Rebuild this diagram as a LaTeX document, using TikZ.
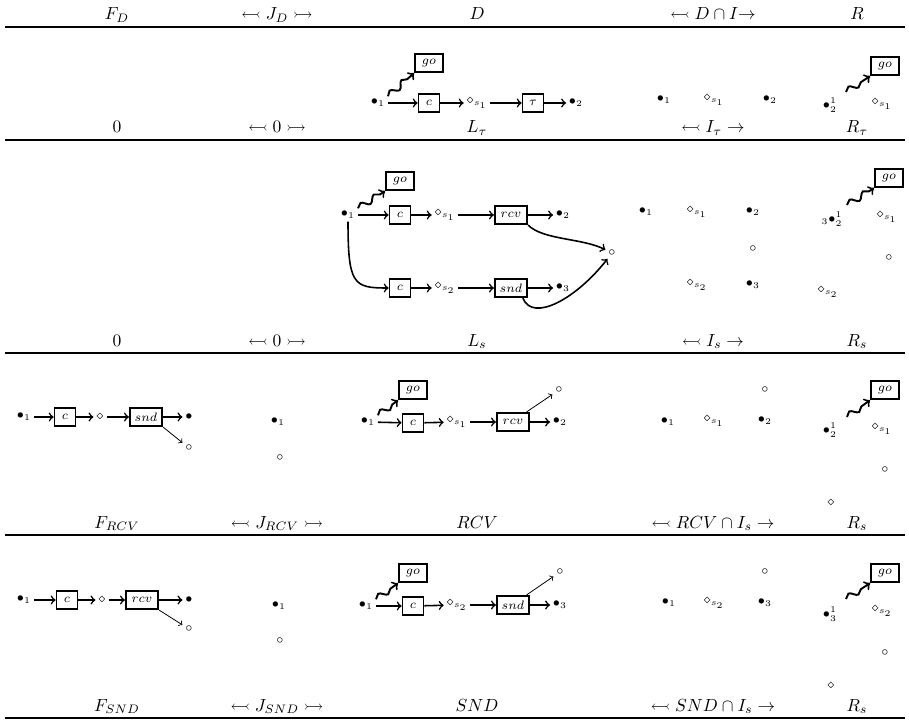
\documentclass[tikz,border=0pt]{standalone}
\usepackage{amssymb}
\usetikzlibrary{decorations.pathmorphing}

\tikzset{
  hd/.style={anchor=base},
  pnt/.style={font=\scriptsize, inner sep=1.5pt},
  tbox/.style={draw, line width=1pt, font=\scriptsize, inner sep=0pt, minimum height=10.5pt, minimum width=12pt},
  gobox/.style={tbox, minimum width=16pt},
  lbox/.style={tbox, minimum width=18.5pt},
  arr/.style={-to, line width=0.9pt},
  slim/.style={-to, line width=0.45pt},
  wavy/.style={-to, line width=1.1pt, decorate, decoration={snake, amplitude=1.8pt, segment length=9pt, post length=3pt}},
  hrule/.style={line width=1.3pt}
}

\begin{document}
\begin{tikzpicture}[x=0.57pt,y=-0.57pt]
    \useasboundingbox (0,0) rectangle (909,720);

    % rules
    \foreach \y in {27,140,353,535,718}
      \draw[hrule] (5,\y) -- (905,\y);

    % header texts
    \node[hd] (h1f) at (117,20) {$F_D$};
    \node[hd] (h1j) at (277,20) {$\leftarrowtail J_D \rightarrowtail$};
    \node[hd] (h1l) at (477,20) {$D$};
    \node[hd] (h1i) at (713,20) {$\leftarrowtail D\cap I{\to}$};
    \node[hd] (h1r) at (857,20) {$R$};

    \node[hd] (h2f) at (117,133) {$0$};
    \node[hd] (h2j) at (277,133) {$\leftarrowtail 0 \rightarrowtail$};
    \node[hd] (h2l) at (477,133) {$L_\tau$};
    \node[hd] (h2i) at (713,133) {$\leftarrowtail I_\tau \to$};
    \node[hd] (h2r) at (857,133) {$R_\tau$};

    \node[hd] (h3f) at (117,346) {$0$};
    \node[hd] (h3j) at (277,346) {$\leftarrowtail 0 \rightarrowtail$};
    \node[hd] (h3l) at (477,346) {$L_s$};
    \node[hd] (h3i) at (713,346) {$\leftarrowtail I_s \to$};
    \node[hd] (h3r) at (857,346) {$R_s$};

    \node[hd] (h4f) at (117,528) {$F_{RCV}$};
    \node[hd] (h4j) at (277,528) {$\leftarrowtail J_{RCV} \rightarrowtail$};
    \node[hd] (h4l) at (477,528) {$RCV$};
    \node[hd] (h4i) at (713,528) {$\leftarrowtail RCV\cap I_s \to$};
    \node[hd] (h4r) at (857,528) {$R_s$};

    \node[hd] (h5f) at (117,711) {$F_{SND}$};
    \node[hd] (h5j) at (277,711) {$\leftarrowtail J_{SND} \rightarrowtail$};
    \node[hd] (h5l) at (477,711) {$SND$};
    \node[hd] (h5i) at (713,711) {$\leftarrowtail SND\cap I_s \to$};
    \node[hd] (h5r) at (857,711) {$R_s$};

    % row L_tau
    \node[pnt] (tl1) at (378,103) {$\bullet_1$};
    \node[gobox] (tlgo) at (429,63) {$go$};
    \node[tbox] (tlc) at (429,103) {$c$};
    \node[pnt] (tls) at (477,103) {$\diamond_{s_1}$};
    \node[tbox] (tltau) at (533,103) {$\tau$};
    \node[pnt] (tl2) at (576,103) {$\bullet_2$};
    \draw[arr] (tl1) -- (tlc);
    \draw[arr] (tlc) -- (tls);
    \draw[arr] (tls) -- (tltau);
    \draw[arr] (tltau) -- (tl2);
    \draw[wavy] (tl1.north east) -- (tlgo.south west);

    \node[pnt] (ti1) at (664,100) {$\bullet_1$};
    \node[pnt] (tis) at (714,100) {$\diamond_{s_1}$};
    \node[pnt] (ti2) at (770,100) {$\bullet_2$};

    \node[gobox] (trgo) at (885,66) {$go$};
    \node[pnt] (tr12) at (830,105) {$\bullet^1_2$};
    \node[pnt] (trs) at (882,104) {$\diamond_{s_1}$};
    \coordinate (trw) at (846,92);
    \draw[wavy] (trw) -- (trgo.south west);

    % row L_s
    \node[pnt] (sl1) at (348,215) {$\bullet_1$};
    \node[gobox] (slgo) at (400,181) {$go$};
    \node[tbox] (slc1) at (400,215) {$c$};
    \node[pnt] (sls1) at (445,215) {$\diamond_{s_1}$};
    \node[lbox] (slrcv) at (511,215) {$rcv$};
    \node[pnt] (sl2) at (563,215) {$\bullet_2$};
    \node[pnt] (slo) at (612,253) {$\circ$};
    \node[tbox] (slc2) at (400,288) {$c$};
    \node[pnt] (sls2) at (445,288) {$\diamond_{s_2}$};
    \node[lbox] (slsnd) at (511,288) {$snd$};
    \node[pnt] (sl3) at (563,288) {$\bullet_3$};
    \draw[arr] (sl1) -- (slc1);
    \draw[arr] (slc1) -- (sls1);
    \draw[arr] (sls1) -- (slrcv);
    \draw[arr] (slrcv) -- (sl2);
    \draw[arr] (slc2) -- (sls2);
    \draw[arr] (sls2) -- (slsnd);
    \draw[arr] (slsnd) -- (sl3);
    \draw[arr] (sl1.south) .. controls +(0,63) and +(-35,0) .. (slc2.west);
    \draw[arr] (slrcv.south east) .. controls +(15,15) and +(-30,-15) .. (slo);
    \draw[arr] ([xshift=-3pt]slsnd.south east) .. controls +(10,25) and +(-35,45) .. (slo);
    \draw[wavy] (sl1.north east) -- (slgo.south west);

    \node[pnt] (si1) at (646,212) {$\bullet_1$};
    \node[pnt] (sis1) at (697,212) {$\diamond_{s_1}$};
    \node[pnt] (si2) at (753,212) {$\bullet_2$};
    \node[pnt] (sio) at (753,249) {$\circ$};
    \node[pnt] (sis2) at (697,285) {$\diamond_{s_2}$};
    \node[pnt] (si3) at (753,285) {$\bullet_3$};

    \node[gobox] (srgo) at (889,178) {$go$};
    \node[pnt] (sr12) at (832,219) {${}_3\bullet^1_2$};
    \node[pnt] (srs1) at (887,217) {$\diamond_{s_1}$};
    \node[pnt] (sro) at (889,258) {$\circ$};
    \node[pnt] (srs2) at (828,292) {$\diamond_{s_2}$};
    \coordinate (srw) at (847,205);
    \draw[wavy] (srw) -- (srgo.south west);

    % row RCV
    \node[pnt] (vf1) at (24,417) {$\bullet_1$};
    \node[tbox] (vfc) at (65,417) {$c$};
    \node[pnt] (vfd) at (100,417) {$\diamond$};
    \node[lbox] (vfsnd) at (146,417) {$snd$};
    \node[pnt] (vfb) at (189,417) {$\bullet$};
    \node[pnt] (vfo) at (189,448) {$\circ$};
    \draw[arr] (vf1) -- (vfc);
    \draw[arr] (vfc) -- (vfd);
    \draw[arr] (vfd) -- (vfsnd);
    \draw[arr] (vfsnd) -- (vfb);
    \draw[slim] (vfsnd.south east) -- (vfo);

    \node[pnt] (vj1) at (278,422) {$\bullet_1$};
    \node[pnt] (vjo) at (280,458) {$\circ$};

    \node[pnt] (vl1) at (368,422) {$\bullet_1$};
    \node[gobox] (vlgo) at (413,390) {$go$};
    \node[tbox] (vlc) at (413,423) {$c$};
    \node[pnt] (vls) at (457,422) {$\diamond_{s_1}$};
    \node[lbox] (vlrcv) at (513,422) {$rcv$};
    \node[pnt] (vl2) at (560,422) {$\bullet_2$};
    \node[pnt] (vlo) at (559,390) {$\circ$};
    \draw[arr] (vl1) -- (vlc);
    \draw[arr] (vlc) -- (vls);
    \draw[arr] (vls) -- (vlrcv);
    \draw[arr] (vlrcv) -- (vl2);
    \draw[slim] ([xshift=-2pt]vlrcv.north east) -- (vlo);
    \draw[wavy] (vl1.north east) -- (vlgo.south west);

    \node[pnt] (vi1) at (668,422) {$\bullet_1$};
    \node[pnt] (vis) at (714,421) {$\diamond_{s_1}$};
    \node[pnt] (vi2) at (765,421) {$\bullet_2$};
    \node[pnt] (vio) at (765,390) {$\circ$};

    \node[gobox] (vrgo) at (885,390) {$go$};
    \node[pnt] (vr12) at (830,430) {$\bullet^1_2$};
    \node[pnt] (vrs) at (882,429) {$\diamond_{s_1}$};
    \node[pnt] (vro) at (885,470) {$\circ$};
    \node[pnt] (vrd) at (831,503) {$\diamond$};
    \coordinate (vrw) at (847,417);
    \draw[wavy] (vrw) -- (vrgo.south west);

    % row SND
    \node[pnt] (nf1) at (24,600) {$\bullet_1$};
    \node[tbox] (nfc) at (67,600) {$c$};
    \node[pnt] (nfd) at (102,600) {$\diamond$};
    \node[lbox] (nfrcv) at (142,600) {$rcv$};
    \node[pnt] (nfb) at (189,600) {$\bullet$};
    \node[pnt] (nfo) at (189,629) {$\circ$};
    \draw[arr] (nf1) -- (nfc);
    \draw[arr] (nfc) -- (nfd);
    \draw[arr] (nfd) -- (nfrcv);
    \draw[arr] (nfrcv) -- (nfb);
    \draw[slim] (nfrcv.south east) -- (nfo);

    \node[pnt] (nj1) at (279,606) {$\bullet_1$};
    \node[pnt] (njo) at (280,641) {$\circ$};

    \node[pnt] (nl1) at (366,606) {$\bullet_1$};
    \node[gobox] (nlgo) at (413,573) {$go$};
    \node[tbox] (nlc) at (413,606) {$c$};
    \node[pnt] (nls) at (457,605) {$\diamond_{s_2}$};
    \node[lbox] (nlsnd) at (513,605) {$snd$};
    \node[pnt] (nl3) at (560,605) {$\bullet_3$};
    \node[pnt] (nlo) at (560,572) {$\circ$};
    \draw[arr] (nl1) -- (nlc);
    \draw[arr] (nlc) -- (nls);
    \draw[arr] (nls) -- (nlsnd);
    \draw[arr] (nlsnd) -- (nl3);
    \draw[slim] ([xshift=-2pt]nlsnd.north east) -- (nlo);
    \draw[wavy] (nl1.north east) -- (nlgo.south west);

    \node[pnt] (ni1) at (669,603) {$\bullet_1$};
    \node[pnt] (nis) at (714,603) {$\diamond_{s_2}$};
    \node[pnt] (ni3) at (765,603) {$\bullet_3$};
    \node[pnt] (nio) at (765,572) {$\circ$};

    \node[gobox] (nrgo) at (885,573) {$go$};
    \node[pnt] (nr13) at (830,614) {$\bullet^1_3$};
    \node[pnt] (nrs) at (882,611) {$\diamond_{s_2}$};
    \node[pnt] (nro) at (885,653) {$\circ$};
    \node[pnt] (nrd) at (831,686) {$\diamond$};
    \coordinate (nrw) at (846,599);
    \draw[wavy] (nrw) -- (nrgo.south west);
\end{tikzpicture}
\end{document}
